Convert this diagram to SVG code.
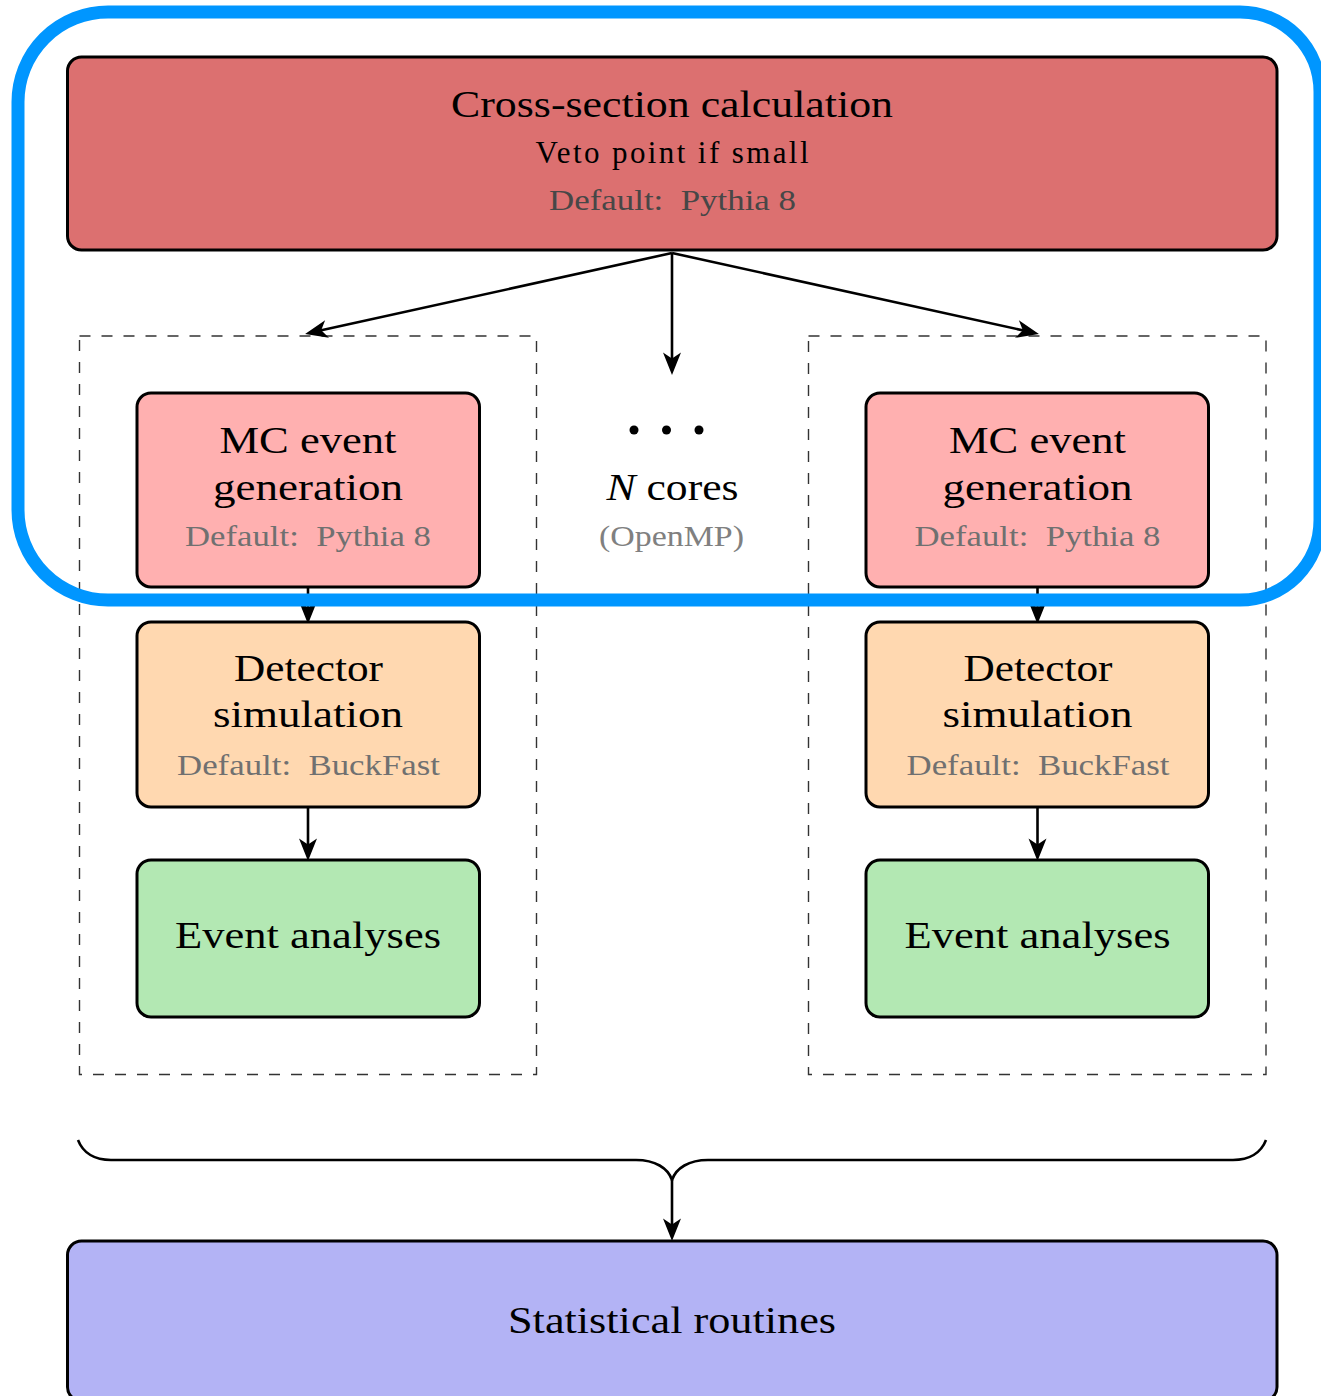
<svg xmlns="http://www.w3.org/2000/svg" width="1321" height="1396" viewBox="0 0 1321 1396">
<defs>
<style>
.box{stroke:#000;stroke-width:3}
.dash{fill:none;stroke:#333;stroke-width:1.4;stroke-dasharray:11 11}
.t{font-family:"Liberation Serif","Times New Roman",serif;fill:#000;text-anchor:middle}
.big{font-size:38px}
.sm{font-size:29px}
.vt{font-size:31px}
.g1{fill:#474747}
.g2{fill:#707070}
.g3{fill:#808080}
.conn{fill:none;stroke:#000;stroke-width:2.6}
</style>
<marker id="ah" markerUnits="userSpaceOnUse" markerWidth="30" markerHeight="30" viewBox="-10 -8 20 16" refX="0" refY="0" orient="auto" overflow="visible">
<path d="M8,0 L-7,-6 L-3,0 L-7,6 Z" fill="#000"/>
</marker>
</defs>
<rect width="1321" height="1396" fill="#fff"/>

<g id="core-left">
<rect class="dash" x="79.5" y="336" width="457" height="738.5"/>
</g>
<g id="core-right">
<rect class="dash" x="808.5" y="336" width="457.5" height="738.5"/>
</g>

<g id="connectors">
<line class="conn" x1="672" y1="253" x2="316.8" y2="331.3" marker-end="url(#ah)"/>
<line class="conn" x1="672" y1="253" x2="672" y2="363" marker-end="url(#ah)"/>
<line class="conn" x1="672" y1="253" x2="1027.2" y2="331.3" marker-end="url(#ah)"/>
<line class="conn" x1="308" y1="587" x2="308" y2="612" marker-end="url(#ah)"/>
<line class="conn" x1="1037.5" y1="587" x2="1037.5" y2="612" marker-end="url(#ah)"/>
<line class="conn" x1="308" y1="807" x2="308" y2="849" marker-end="url(#ah)"/>
<line class="conn" x1="1037.5" y1="807" x2="1037.5" y2="849" marker-end="url(#ah)"/>
<path class="conn" d="M78,1140 C83,1153 95,1160 111,1160 L636,1160 C655,1160 668,1168 672,1180 C676,1168 689,1160 708,1160 L1233,1160 C1249,1160 1261,1153 1266,1140"/>
<line class="conn" x1="672" y1="1180" x2="672" y2="1229" marker-end="url(#ah)"/>
</g>

<g id="cross-section">
<rect class="box" x="67.5" y="57" width="1209.5" height="193" rx="14" fill="#DC7070"/>
<text class="t big" x="672" y="117" textLength="442" lengthAdjust="spacingAndGlyphs">Cross-section calculation</text>
<text class="t vt" x="672" y="163" textLength="273" lengthAdjust="spacing">Veto point if small</text>
<text class="t sm g1" x="672.5" y="210" textLength="247" lengthAdjust="spacingAndGlyphs">Default:&#160; Pythia 8</text>
</g>

<g id="mc-left">
<rect class="box" x="137" y="393" width="342.5" height="194" rx="14" fill="#FFB0B0"/>
<text class="t big" x="308" y="453" textLength="177" lengthAdjust="spacingAndGlyphs">MC event</text>
<text class="t big" x="308" y="500" textLength="190" lengthAdjust="spacingAndGlyphs">generation</text>
<text class="t sm g2" x="308" y="546" textLength="246" lengthAdjust="spacingAndGlyphs">Default:&#160; Pythia 8</text>
</g>
<g id="mc-right">
<rect class="box" x="866" y="393" width="342.5" height="194" rx="14" fill="#FFB0B0"/>
<text class="t big" x="1037.5" y="453" textLength="177" lengthAdjust="spacingAndGlyphs">MC event</text>
<text class="t big" x="1037.5" y="500" textLength="190" lengthAdjust="spacingAndGlyphs">generation</text>
<text class="t sm g2" x="1037.5" y="546" textLength="246" lengthAdjust="spacingAndGlyphs">Default:&#160; Pythia 8</text>
</g>

<g id="detector-left">
<rect class="box" x="137" y="622" width="342.5" height="185" rx="14" fill="#FFD8B0"/>
<text class="t big" x="308.5" y="681" textLength="149" lengthAdjust="spacingAndGlyphs">Detector</text>
<text class="t big" x="308" y="727" textLength="190" lengthAdjust="spacingAndGlyphs">simulation</text>
<text class="t sm g2" x="308.5" y="775" textLength="263" lengthAdjust="spacingAndGlyphs">Default:&#160; BuckFast</text>
</g>
<g id="detector-right">
<rect class="box" x="866" y="622" width="342.5" height="185" rx="14" fill="#FFD8B0"/>
<text class="t big" x="1038" y="681" textLength="149" lengthAdjust="spacingAndGlyphs">Detector</text>
<text class="t big" x="1037.5" y="727" textLength="190" lengthAdjust="spacingAndGlyphs">simulation</text>
<text class="t sm g2" x="1038" y="775" textLength="263" lengthAdjust="spacingAndGlyphs">Default:&#160; BuckFast</text>
</g>

<g id="analyses-left">
<rect class="box" x="137" y="860" width="342.5" height="157" rx="14" fill="#B3E8B3"/>
<text class="t big" x="308" y="948" textLength="266" lengthAdjust="spacingAndGlyphs">Event analyses</text>
</g>
<g id="analyses-right">
<rect class="box" x="866" y="860" width="342.5" height="157" rx="14" fill="#B3E8B3"/>
<text class="t big" x="1037.5" y="948" textLength="266" lengthAdjust="spacingAndGlyphs">Event analyses</text>
</g>

<g id="n-cores">
<circle cx="634" cy="430" r="4.5" fill="#000"/>
<circle cx="666.5" cy="430" r="4.5" fill="#000"/>
<circle cx="699" cy="430" r="4.5" fill="#000"/>
<text class="t big" x="672.5" y="500" textLength="132" lengthAdjust="spacingAndGlyphs"><tspan font-style="italic">N</tspan> cores</text>
<text class="t sm g3" x="671.5" y="546" textLength="145" lengthAdjust="spacingAndGlyphs">(OpenMP)</text>
</g>

<g id="statistical">
<rect class="box" x="67.5" y="1241" width="1209.5" height="160" rx="14" fill="#B3B3F5"/>
<text class="t big" x="672" y="1333" textLength="328" lengthAdjust="spacingAndGlyphs">Statistical routines</text>
</g>

<g id="highlight">
<path d="M108,12 H1240 A80 80 0 0 1 1320,92 V520 A80 80 0 0 1 1240,600 H108 A90 90 0 0 1 18,510 V102 A90 90 0 0 1 108,12 Z" fill="none" stroke="#0096FF" stroke-width="13"/>
</g>
</svg>
